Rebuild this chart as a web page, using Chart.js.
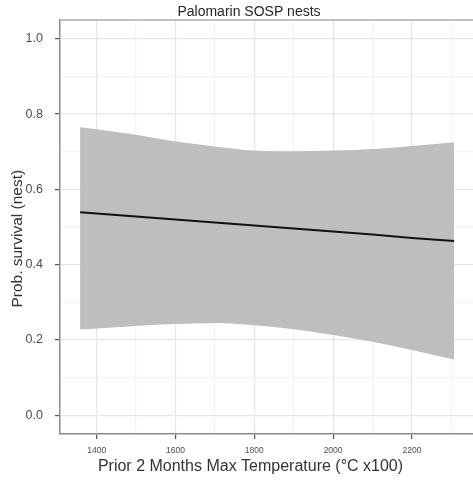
<!DOCTYPE html>
<html>
<head>
<meta charset="utf-8">
<script src="https://cdn.jsdelivr.net/npm/chart.js@4"></script>
<style>
  html, body { margin: 0; padding: 0; background: #fff; }
  #wrap { width: 473px; height: 482px; }
</style>
</head>
<body>
<div id="wrap"><canvas id="chart" width="473" height="482"></canvas></div>
<script>
// values
const temps  = [1358, 1400, 1500, 1600, 1700, 1800, 1900, 2000, 2100, 2200, 2307];
const fitted = [0.539, 0.536, 0.528, 0.520, 0.512, 0.504, 0.496, 0.488, 0.480, 0.471, 0.463];
const upper  = [0.765, 0.760, 0.745, 0.727, 0.714, 0.703, 0.701, 0.703, 0.707, 0.715, 0.725];
const lower  = [0.228, 0.230, 0.237, 0.242, 0.245, 0.239, 0.228, 0.213, 0.195, 0.173, 0.148];

const xTicks  = [1400, 1500, 1600, 1700, 1800, 1900, 2000, 2100, 2200, 2300];
const xLabels = [1400, 1600, 1800, 2000, 2200];
const yTicks  = [0, 0.1, 0.2, 0.3, 0.4, 0.5, 0.6, 0.7, 0.8, 0.9, 1.0];
const yLabels = [0, 0.2, 0.4, 0.6, 0.8, 1.0];

const chartTitle = 'Palomarin SOSP nests';
const xTitle = 'Prior 2 Months Max Temperature (°C x100)';
const yTitle = 'Prob. survival (nest)';

const FONT = '"Liberation Sans", Arial, sans-serif';

function pts(ys) {
    return temps.map((t, i) => ({ x: t, y: ys[i] }));
}

function isMajor(list, v) {
    return list.some(l => Math.abs(l - v) < 1e-6);
}

// ggplot-like titles, placed relative to the panel
const titlesPlugin = {
    id: 'titles',
    afterDraw(chart) {
        const ctx = chart.ctx;
        const a = chart.chartArea;
        ctx.save();
        ctx.textAlign = 'center';
        ctx.textBaseline = 'middle';

        ctx.fillStyle = '#262626';
        ctx.font = '14px ' + FONT;
        ctx.fillText(chartTitle, a.left + 189, 12.5);

        ctx.fillStyle = '#333';
        ctx.font = '16px ' + FONT;
        ctx.fillText(xTitle, a.left + 190.5, 467);

        ctx.font = '15.5px ' + FONT;
        ctx.translate(18, a.top + 218.7);
        ctx.rotate(-Math.PI / 2);
        ctx.fillText(yTitle, 0, 0);
        ctx.restore();
    }
};

// thin frame along the top of the panel (the right side is cut off)
const framePlugin = {
    id: 'frame',
    afterDatasetsDraw(chart) {
        const ctx = chart.ctx;
        const a = chart.chartArea;
        ctx.save();
        ctx.strokeStyle = '#ababab';
        ctx.lineWidth = 1.5;
        ctx.beginPath();
        ctx.moveTo(a.left, a.top);
        ctx.lineTo(a.right, a.top);
        ctx.stroke();
        ctx.restore();
    }
};

const ctx = document.getElementById('chart').getContext('2d');
new Chart(ctx, {
    type: 'line',
    data: {
        datasets: [{
            label: 'fit',
            data: pts(fitted),
            borderColor: '#111',
            borderWidth: 2,
            pointRadius: 0,
            fill: false
        }, {
            label: 'upper',
            data: pts(upper),
            borderWidth: 0,
            borderColor: 'rgba(0,0,0,0)',
            backgroundColor: '#bebebe',
            pointRadius: 0,
            cubicInterpolationMode: 'monotone',
            fill: '+1'
        }, {
            label: 'lower',
            data: pts(lower),
            borderWidth: 0,
            borderColor: 'rgba(0,0,0,0)',
            pointRadius: 0,
            cubicInterpolationMode: 'monotone',
            fill: false
        }]
    },
    options: {
        responsive: false,
        animation: false,
        layout: { padding: { top: 20, right: 0, bottom: 0, left: 0 } },
        plugins: {
            legend: { display: false },
            tooltip: { enabled: false },
            title: { display: false }
        },
        scales: {
            x: {
                type: 'linear',
                min: 1307,
                max: 2355,
                afterBuildTicks: s => { s.ticks = xTicks.map(v => ({ value: v })); },
                afterFit: s => { s.height = 48; },
                ticks: {
                    autoSkip: false,
                    maxRotation: 0,
                    padding: 7,
                    color: '#4d4d4d',
                    font: { family: FONT, size: 8.5 },
                    callback: v => isMajor(xLabels, v) ? String(v) : ''
                },
                grid: {
                    color: c => isMajor(xLabels, c.tick.value) ? '#e6e6e6' : '#f3f3f3',
                    tickColor: c => isMajor(xLabels, c.tick.value) ? '#555' : 'rgba(0,0,0,0)',
                    tickLength: 5,
                    lineWidth: 1.2
                },
                border: { color: '#8c8c8c', width: 1.5 }
            },
            y: {
                type: 'linear',
                min: -0.05,
                max: 1.05,
                afterBuildTicks: s => { s.ticks = yTicks.map(v => ({ value: v })); },
                afterFit: s => { s.width = 60; },
                ticks: {
                    autoSkip: false,
                    padding: 12,
                    color: '#4d4d4d',
                    font: { family: FONT, size: 12.5 },
                    callback: v => isMajor(yLabels, v) ? v.toFixed(1) : ''
                },
                grid: {
                    color: c => isMajor(yLabels, c.tick.value) ? '#e6e6e6' : '#f3f3f3',
                    tickColor: c => isMajor(yLabels, c.tick.value) ? '#555' : 'rgba(0,0,0,0)',
                    tickLength: 5,
                    lineWidth: 1.2
                },
                border: { color: '#8c8c8c', width: 1.5 }
            }
        }
    },
    plugins: [titlesPlugin, framePlugin]
});
</script>
</body>
</html>
